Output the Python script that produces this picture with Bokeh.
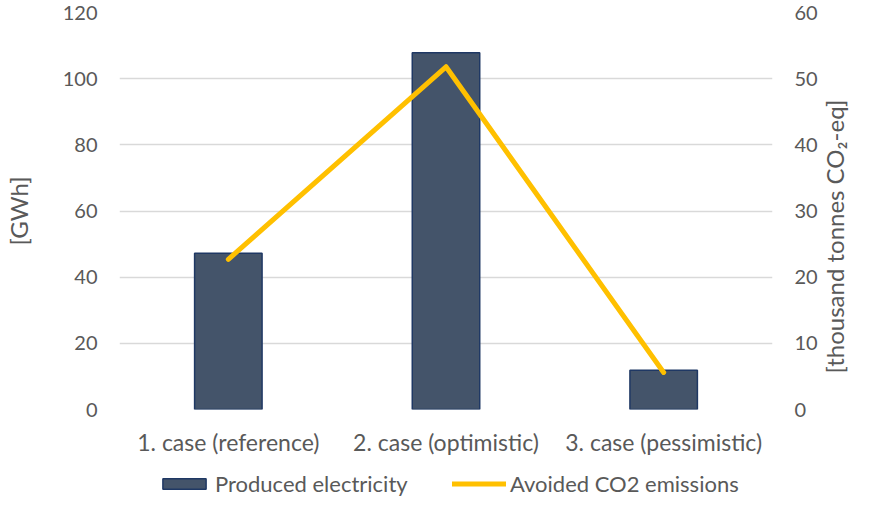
import math
from bokeh.plotting import figure
from bokeh.layouts import column
from bokeh.models import Range1d, LinearAxis, FixedTicker, Legend, LegendItem
from bokeh.embed import file_html
from bokeh.resources import INLINE

categories = ["1. case (reference)", "2. case (optimistic)", "3. case (pessimistic)"]
electricity_gwh = [47.2, 107.8, 11.9]
avoided_co2_kt = [22.7, 51.8, 5.6]
left_ticks = [0, 20, 40, 60, 80, 100, 120]
right_ticks = [0, 10, 20, 30, 40, 50, 60]
series_names = ["Produced electricity", "Avoided CO2 emissions"]

FONT = "Lato"
TXT = "#595959"
BAR_FILL = "#44546A"
BAR_LINE = "#1F3864"
LINE_COL = "#FFC000"

p = figure(x_range=categories, y_range=Range1d(0, 120), width=869, height=465,
           output_backend="svg", toolbar_location=None,
           min_border_left=112, min_border_right=97, min_border_top=12, min_border_bottom=56)
p.extra_y_ranges = {"co2": Range1d(0, 60)}
p.outline_line_color = None

bars = p.vbar(x=categories, top=electricity_gwh, width=0.31,
              fill_color=BAR_FILL, line_color=BAR_LINE, line_width=1.5)
line = p.line(x=categories, y=avoided_co2_kt, y_range_name="co2",
              line_color=LINE_COL, line_width=5, line_cap="round", line_join="round")

p.xgrid.grid_line_color = None
p.ygrid.grid_line_color = "#D9D9D9"
p.ygrid.grid_line_width = 1.5
p.yaxis.ticker = FixedTicker(ticks=left_ticks)

right = LinearAxis(y_range_name="co2", ticker=FixedTicker(ticks=right_ticks))
p.add_layout(right, "right")

p.yaxis[0].axis_label = "[GWh]"
right.axis_label = "\u2003\u2003[thousand tonnes CO\u2082-eq]"

for ax in [p.xaxis[0], p.yaxis[0], right]:
    ax.axis_line_color = None
    ax.major_tick_line_color = None
    ax.minor_tick_line_color = None
    ax.major_tick_out = 0
    ax.major_tick_in = 0
    ax.minor_tick_out = 0
    ax.minor_tick_in = 0
    ax.major_label_text_font = FONT
    ax.major_label_text_font_size = "20px"
    ax.major_label_text_color = TXT
    ax.axis_label_text_font = FONT
    ax.axis_label_text_font_size = "24px"
    ax.axis_label_text_font_style = "normal"
    ax.axis_label_text_color = TXT

p.xaxis[0].major_label_text_font_size = "23px"
p.xaxis[0].major_label_standoff = 18
p.yaxis[0].major_label_standoff = 22
right.major_label_standoff = 22
p.yaxis[0].axis_label_standoff = 27
right.axis_label_standoff = 14
right.axis_label_orientation = math.pi / 2
right.axis_label_align = "start"

# legend strip below the chart
lg_fig = figure(x_range=categories, y_range=Range1d(1000, 1001), width=869, height=32,
                output_backend="svg", toolbar_location=None,
                x_axis_type=None, y_axis_type=None, min_border=0,
                min_border_left=0, min_border_right=0, min_border_top=0, min_border_bottom=0)
lg_fig.outline_line_color = None
lg_fig.xgrid.grid_line_color = None
lg_fig.ygrid.grid_line_color = None
lg_bar = lg_fig.vbar(x=categories, top=electricity_gwh, width=0.31,
                     fill_color=BAR_FILL, line_color=BAR_LINE, line_width=1.5)
lg_line = lg_fig.line(x=categories, y=avoided_co2_kt,
                      line_color=LINE_COL, line_width=5, line_cap="round")
lg_bar.visible = False
lg_line.visible = False

leg1 = Legend(items=[LegendItem(label=series_names[0], renderers=[lg_bar])], location=(38, 0))
leg2 = Legend(items=[LegendItem(label=series_names[1], renderers=[lg_line])], location=(333, 0))
for lg in [leg1, leg2]:
    lg.glyph_width = 54
    lg.glyph_height = 13
    lg.border_line_color = None
    lg.background_fill_alpha = 0
    lg.padding = 0
    lg.margin = 0
    lg.spacing = 0
    lg.label_standoff = 4
    lg.label_height = 22
    lg.label_text_font = FONT
    lg.label_text_font_size = "22px"
    lg.label_text_color = TXT
    lg_fig.add_layout(lg, "center")

layout = column(p, lg_fig, spacing=0)
open("out.html", "w").write(file_html(layout, INLINE))
